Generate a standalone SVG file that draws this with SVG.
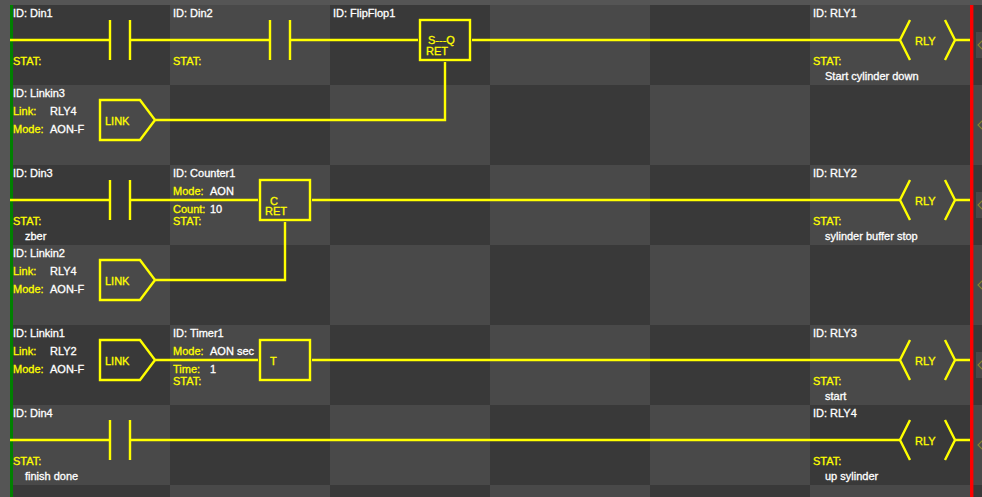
<svg xmlns="http://www.w3.org/2000/svg" width="982" height="497" viewBox="0 0 982 497">
<style>
text{font-family:"Liberation Sans",Arial,sans-serif;font-size:11px;stroke-width:.3px}
.w{fill:#fff;stroke:#fff}.y,.s,.b{fill:#ff0;stroke:#ff0}
.c{fill:none;stroke:#ff0;stroke-width:2.4}
</style>
<defs>
<pattern id="chk" x="10" y="5" width="320" height="160" patternUnits="userSpaceOnUse">
<rect width="320" height="160" fill="#494949"/>
<rect width="160" height="80" fill="#393939"/>
<rect x="160" y="80" width="160" height="80" fill="#393939"/>
</pattern>
<g id="contact"><path class="c" d="M110 -20V20M130 -20V20"/></g>
<g id="rly"><path class="c" d="M910 -20L900 0L910 20M945 -20L955 0L945 20"/></g>
<path id="link" class="c" d="M100 -20H140L155 0L140 20H100Z"/>
<g id="tab"><rect x="976" y="-8" width="6" height="26" fill="#494949"/><path d="M983 0L978 5L983 10" fill="none" stroke="#85852c" stroke-width="1.2"/></g>
</defs>
<rect width="982" height="497" fill="#555"/>
<rect x="10" y="5" width="972" height="492" fill="url(#chk)"/>
<rect x="10" y="5" width="3" height="492" fill="#008000"/>
<rect x="970" y="5" width="3.4" height="492" fill="#f00"/>
<g id="tabs">
<use href="#tab" y="40"/><use href="#tab" y="120"/><use href="#tab" y="200"/><use href="#tab" y="280"/><use href="#tab" y="360"/><use href="#tab" y="440"/>
</g>
<g id="connectors">
<path class="c" d="M10 40H109M131 40H269M291 40H418M472 40H900M955 40H970"/>
<path class="c" d="M155 120H445V62"/>
<path class="c" d="M10 200H109M131 200H258M312 200H900M955 200H970"/>
<path class="c" d="M155 280H285V222"/>
<path class="c" d="M155 360H258M312 360H900M955 360H970"/>
<path class="c" d="M10 440H109M131 440H900M955 440H970"/>
</g>
<g id="Din1"><use href="#contact" y="40"/><text class="w" x="13" y="17">ID: Din1</text><text class="s" x="13" y="65">STAT:</text></g>
<g id="Din2"><use href="#contact" x="160" y="40"/><text class="w" x="173" y="17">ID: Din2</text><text class="s" x="173" y="65">STAT:</text></g>
<g id="FlipFlop1"><rect class="c" x="420" y="20" width="50" height="40"/><text class="w" x="333" y="17">ID: FlipFlop1</text><text class="b" x="428" y="44">S---Q</text><text class="b" x="426" y="55">RET</text></g>
<g id="RLY1"><use href="#rly" y="40"/><text class="w" x="813" y="17">ID: RLY1</text><text class="b" x="915" y="45">RLY</text><text class="s" x="813" y="65">STAT:</text><text class="w" x="825" y="80">Start cylinder down</text></g>
<g id="Linkin3"><use href="#link" y="120"/><text class="w" x="13" y="97">ID: Linkin3</text><text class="y" x="13" y="115">Link:</text><text class="w" x="50" y="115">RLY4</text><text class="y" x="13" y="133">Mode:</text><text class="w" x="50" y="133">AON-F</text><text class="b" x="105" y="125">LINK</text></g>
<g id="Din3"><use href="#contact" y="200"/><text class="w" x="13" y="177">ID: Din3</text><text class="s" x="13" y="225">STAT:</text><text class="w" x="25" y="240">zber</text></g>
<g id="Counter1"><rect class="c" x="260" y="180" width="50" height="40"/><text class="w" x="173" y="177">ID: Counter1</text><text class="y" x="173" y="195">Mode:</text><text class="w" x="210" y="195">AON</text><text class="y" x="173" y="213">Count:</text><text class="w" x="210" y="213">10</text><text class="s" x="173" y="225">STAT:</text><text class="b" x="270" y="205">C</text><text class="b" x="265" y="215">RET</text></g>
<g id="RLY2"><use href="#rly" y="200"/><text class="w" x="813" y="177">ID: RLY2</text><text class="b" x="915" y="205">RLY</text><text class="s" x="813" y="225">STAT:</text><text class="w" x="825" y="240">sylinder buffer stop</text></g>
<g id="Linkin2"><use href="#link" y="280"/><text class="w" x="13" y="257">ID: Linkin2</text><text class="y" x="13" y="275">Link:</text><text class="w" x="50" y="275">RLY4</text><text class="y" x="13" y="293">Mode:</text><text class="w" x="50" y="293">AON-F</text><text class="b" x="105" y="285">LINK</text></g>
<g id="Linkin1"><use href="#link" y="360"/><text class="w" x="13" y="337">ID: Linkin1</text><text class="y" x="13" y="355">Link:</text><text class="w" x="50" y="355">RLY2</text><text class="y" x="13" y="373">Mode:</text><text class="w" x="50" y="373">AON-F</text><text class="b" x="105" y="365">LINK</text></g>
<g id="Timer1"><rect class="c" x="260" y="340" width="50" height="40"/><text class="w" x="173" y="337">ID: Timer1</text><text class="y" x="173" y="355">Mode:</text><text class="w" x="210" y="355">AON sec</text><text class="y" x="173" y="373">Time:</text><text class="w" x="210" y="373">1</text><text class="s" x="173" y="385">STAT:</text><text class="b" x="270" y="365">T</text></g>
<g id="RLY3"><use href="#rly" y="360"/><text class="w" x="813" y="337">ID: RLY3</text><text class="b" x="915" y="365">RLY</text><text class="s" x="813" y="385">STAT:</text><text class="w" x="825" y="400">start</text></g>
<g id="Din4"><use href="#contact" y="440"/><text class="w" x="13" y="417">ID: Din4</text><text class="s" x="13" y="465">STAT:</text><text class="w" x="25" y="480">finish done</text></g>
<g id="RLY4"><use href="#rly" y="440"/><text class="w" x="813" y="417">ID: RLY4</text><text class="b" x="915" y="445">RLY</text><text class="s" x="813" y="465">STAT:</text><text class="w" x="825" y="480">up sylinder</text></g>
</svg>
